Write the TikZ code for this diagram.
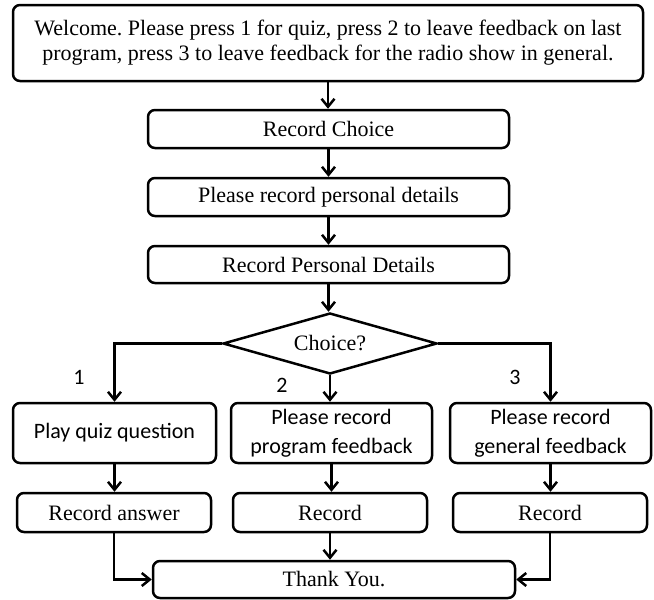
\documentclass[tikz,border=0pt]{standalone}
\usepackage{fontspec}
\setmainfont{Liberation Serif}
\newfontfamily\carlfont{Carlito}
\usetikzlibrary{shapes.geometric,arrows.meta}
\frenchspacing
\begin{document}
\begin{tikzpicture}[x=1pt,y=-1pt,
  box/.style={draw,line width=2.5pt,rounded corners=7pt,inner sep=0pt,align=center,
    font=\fontsize{22}{25}\selectfont},
  cbox/.style={box,font=\carlfont\fontsize{22}{29}\selectfont},
  lab/.style={inner sep=0pt,font=\carlfont\fontsize{22}{26}\selectfont},
  arr/.style={line width=2.5pt,-{Straight Barb[length=8pt,width=13pt]}}]
\useasboundingbox (0,0) rectangle (654,600);
\node[box,minimum width=630pt,minimum height=76pt] (top) at (328,43)
  {Welcome. Please press 1 for quiz, press 2 to leave feedback on last\\program, press 3 to leave feedback for the radio show in general.};
\node[box,minimum width=361pt,minimum height=38pt] (rc) at (328.5,129) {Record Choice};
\node[box,minimum width=361pt,minimum height=38pt] (prpd) at (328.5,197) {Please record personal details};
\node[box,minimum width=361pt,minimum height=37pt] (rpd) at (328.5,264.5) {Record Personal Details};
\node[draw,line width=2.5pt,shape=diamond,aspect=3.5,inner sep=0pt,minimum width=214pt,minimum height=61pt,
  font=\fontsize{22}{25}\selectfont] (dia) at (330,343.5) {Choice?};
\node[cbox,minimum width=203pt,minimum height=60pt] (b1) at (114.5,433) {Play quiz question};
\node[cbox,minimum width=201pt,minimum height=60pt] (b2) at (331.5,433) {Please record\\program feedback};
\node[cbox,minimum width=201pt,minimum height=60pt] (b3) at (550.5,433) {Please record\\general feedback};
\node[box,minimum width=194pt,minimum height=39pt] (r1) at (114,512.5) {Record answer};
\node[box,minimum width=194pt,minimum height=39pt] (r2) at (330,512.5) {Record};
\node[box,minimum width=194pt,minimum height=39pt] (r3) at (550,512.5) {Record};
\node[box,minimum width=362pt,minimum height=37pt] (ty) at (334,579.5) {Thank You.};
\node[lab] (l1) at (79,377) {1};
\node[lab] (l2) at (282,385) {2};
\node[lab] (l3) at (515,377) {3};
\draw[arr] (top.south) -- (top.south |- rc.north);
\draw[arr] (rc.south) -- (prpd.north);
\draw[arr] (prpd.south) -- (rpd.north);
\draw[arr] (rpd.south) -- (rpd.south |- dia.north);
\draw[arr] (dia.west) -| (b1.north);
\draw[arr] (dia.east) -| (b3.north);
\draw[arr] (dia.south) -- (dia.south |- b2.north);
\draw[arr] (b1.south) -- (b1.south |- r1.north);
\draw[arr] (b2.south) -- (b2.south |- r2.north);
\draw[arr] (b3.south) -- (b3.south |- r3.north);
\draw[arr] (r1.south) |- (ty.west);
\draw[arr] (r3.south) |- (ty.east);
\draw[arr] (r2.south) -- (r2.south |- ty.north);
\end{tikzpicture}
\end{document}
